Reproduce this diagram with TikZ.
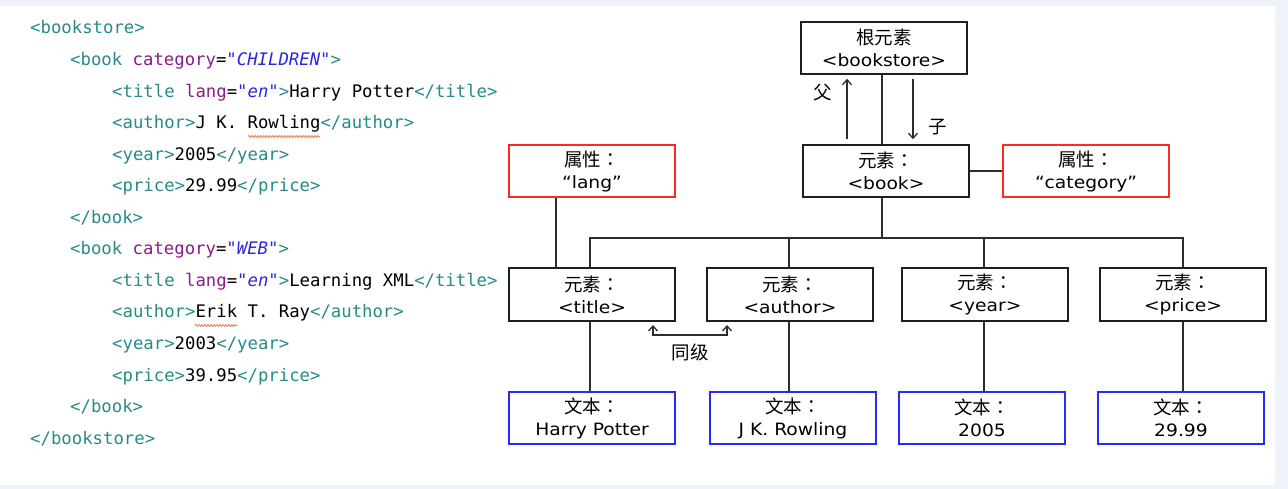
\documentclass[tikz,border=0pt]{standalone}
\usepackage{fontspec}
\setmainfont{DejaVu Sans}
\setmonofont{DejaVu Sans Mono}
\newfontfamily\cjkf{Noto Sans CJK SC}
\newfontfamily\cjkt{Noto Sans CJK TC}
\newfontfamily\dgf[FakeStretch=1.1]{DejaVu Sans}
\usetikzlibrary{arrows.meta,decorations.pathmorphing,calc}
\definecolor{tagc}{RGB}{40,138,138}
\definecolor{attrc}{RGB}{140,28,140}
\definecolor{valc}{RGB}{40,40,225}
\definecolor{boxred}{RGB}{255,40,40}
\definecolor{boxblue}{RGB}{40,40,255}
\definecolor{linec}{RGB}{45,45,45}
\definecolor{bgedge}{RGB}{238,243,249}
\definecolor{squigc}{RGB}{230,110,60}
\newcommand\zhs[1]{{\cjkf\fontsize{18.5}{22}\selectfont #1}}
\newcommand\zcolon{{\cjkt ：}}
\newcommand\tg[1]{\textcolor{tagc}{#1}}
\newcommand\atn[1]{\textcolor{attrc}{#1}}
\newcommand\vl[1]{\textcolor{valc}{\itshape #1}}
\begin{document}
\begin{tikzpicture}[x=1pt,y=-1pt,
  codeline/.style={anchor=base west,inner sep=0pt,font=\ttfamily\fontsize{17.3}{20}\selectfont},
  treebox/.style={draw=black!88,line width=1.6pt,minimum width=166pt,minimum height=52pt,
    inner sep=0pt,align=center,text=black,font=\dgf\fontsize{17}{22}\selectfont},
  attrbox/.style={treebox,draw=boxred},
  textbox/.style={treebox,draw=boxblue},
  conn/.style={draw=linec,line width=1.6pt},
  arr/.style={conn,-{Straight Barb[length=5pt,width=9pt,line width=1.3pt]}},
  lbl/.style={inner sep=0pt,font=\cjkf\fontsize{18.5}{22}\selectfont},
  squig/.style={draw=squigc,line width=0.7pt,decorate,decoration={snake,amplitude=1pt,segment length=3pt}}]
% background
\fill[bgedge] (0,0) rectangle (1288,489);
\fill[white] (0,6) rectangle (1275,485);
\useasboundingbox (0,0) rectangle (1288,489);

% code
\node[codeline] (c0) at (30,34) {\tg{<bookstore>}};
\node[codeline] (c1) at (70,65.5) {\tg{<book} \atn{category}=\vl{"CHILDREN"}\tg{>}};
\node[codeline] (c2) at (112,97.1) {\tg{<title} \atn{lang}=\vl{"en"}\tg{>}Harry Potter\tg{</title>}};
\node[codeline] (c3) at (112,128.6) {\tg{<author>}J K. Rowling\tg{</author>}};
\node[codeline] (c4) at (112,160.2) {\tg{<year>}2005\tg{</year>}};
\node[codeline] (c5) at (112,191.7) {\tg{<price>}29.99\tg{</price>}};
\node[codeline] (c6) at (70,223.2) {\tg{</book>}};
\node[codeline] (c7) at (70,254.8) {\tg{<book} \atn{category}=\vl{"WEB"}\tg{>}};
\node[codeline] (c8) at (112,286.3) {\tg{<title} \atn{lang}=\vl{"en"}\tg{>}Learning XML\tg{</title>}};
\node[codeline] (c9) at (112,317.9) {\tg{<author>}Erik T. Ray\tg{</author>}};
\node[codeline] (c10) at (112,349.4) {\tg{<year>}2003\tg{</year>}};
\node[codeline] (c11) at (112,381) {\tg{<price>}39.95\tg{</price>}};
\node[codeline] (c12) at (70,412.5) {\tg{</book>}};
\node[codeline] (c13) at (30,444) {\tg{</bookstore>}};
\draw[squig] (248,136.5) -- (320,136.5);
\draw[squig] (195,325.5) -- (237,325.5);

% tree boxes
\node[treebox] (root) at (884,48) {\zhs{根元素}\\<bookstore>};
\node[treebox] (book) at (886,171) {\zhs{元素\zcolon}\\<book>};
\node[attrbox] (cat) at (1086,171) {\zhs{属性\zcolon}\\“category”};
\node[attrbox] (lang) at (592,171) {\zhs{属性\zcolon}\\“lang”};
\node[treebox,minimum height=53pt] (title) at (592,294.5) {\zhs{元素\zcolon}\\<title>};
\node[treebox,minimum height=53pt] (author) at (790,294.5) {\zhs{元素\zcolon}\\<author>};
\node[treebox,minimum height=53pt] (year) at (985,294.5) {\zhs{元素\zcolon}\\<year>};
\node[treebox,minimum height=53pt] (price) at (1183,294.5) {\zhs{元素\zcolon}\\<price>};
\node[textbox] (t1) at (592,418) {\zhs{文本\zcolon}\\Harry Potter};
\node[textbox] (t2) at (793,418) {\zhs{文本\zcolon}\\J K. Rowling};
\node[textbox] (t3) at (982,418) {\zhs{文本\zcolon}\\2005};
\node[textbox] (t4) at (1181,418) {\zhs{文本\zcolon}\\29.99};

% connectors
\draw[conn] ([xshift=-2pt]root.south) -- ([xshift=-4pt]book.north);
\draw[arr] ([xshift=-39pt,yshift=5pt]book.north) -- ([xshift=-37pt,yshift=-4pt]root.south);
\draw[arr] ([xshift=29pt,yshift=-4pt]root.south) -- ([xshift=27pt,yshift=5pt]book.north);
\node[lbl] (fu) at (823,93) {父};
\node[lbl] (zi) at (938,127) {子};
\draw[conn] (book.east) -- (cat.west);
\coordinate (bus) at (886,238);
\draw[conn] ([xshift=-4pt]book.south) -- ([xshift=-4pt]book.south |- bus);
\draw[conn] ([xshift=-2pt]title.north) |- (bus -| price.north) -- (price.north);
\draw[conn] ([xshift=-1pt]author.north) -- ([xshift=-1pt]author.north |- bus);
\draw[conn] ([xshift=-1pt]year.north) -- ([xshift=-1pt]year.north |- bus);
\draw[conn] ([xshift=-36pt]lang.south) -- ([xshift=-36pt]title.north);
\draw[conn] ([xshift=-2pt]title.south) -- ([xshift=-2pt]title.south |- t1.north);
\draw[conn] ([xshift=-1pt]author.south) -- ([xshift=-1pt]author.south |- t2.north);
\draw[conn] ([xshift=-1pt]year.south) -- ([xshift=-1pt]year.south |- t3.north);
\draw[conn] (price.south) -- (price.south |- t4.north);
\coordinate (s1) at (653,325);
\coordinate (s2) at (727,325);
\draw[conn,{Straight Barb[length=5pt,width=9pt,line width=1.3pt]}-{Straight Barb[length=5pt,width=9pt,line width=1.3pt]}] (s1) -- ++(0,10) -| (s2);
\node[lbl] (sib) at (690,352) {同级};
\end{tikzpicture}
\end{document}
